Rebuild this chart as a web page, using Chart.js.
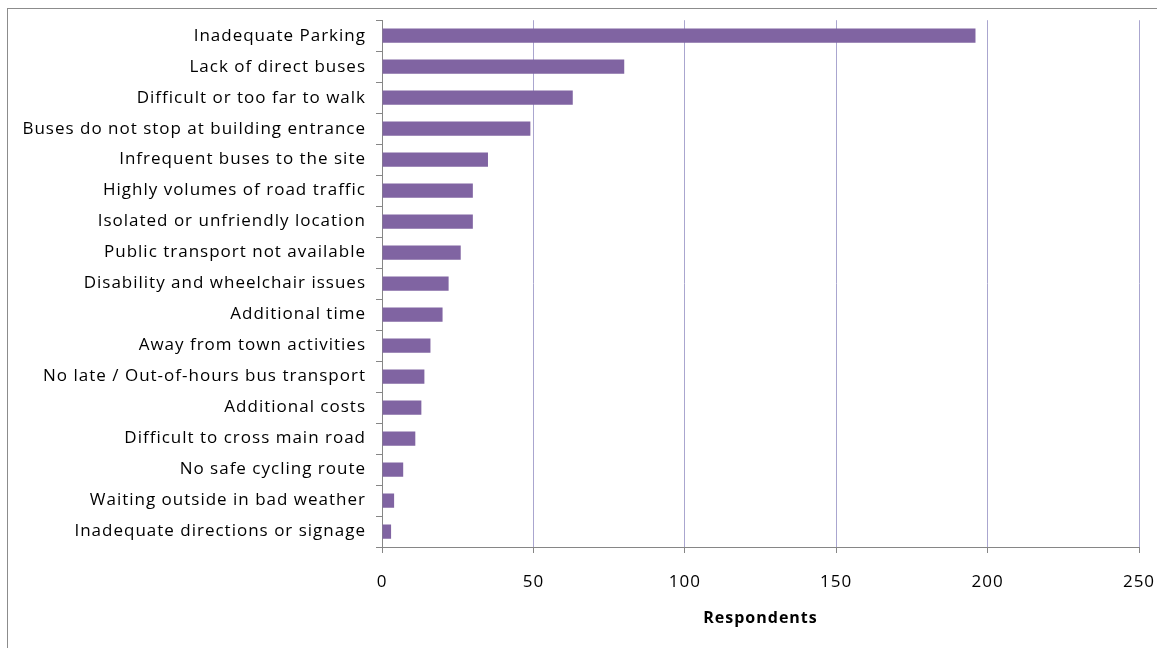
<!DOCTYPE html>
<html>
<head>
<meta charset="utf-8">
<script src="https://cdn.jsdelivr.net/npm/chart.js@4"></script>
<style>
  html, body { margin: 0; padding: 0; background: #fff; overflow: hidden; }
  #frame { position: absolute; left: 7px; top: 8px; width: 1300px; height: 800px; border: 1px solid #8c8c8c; }
  #wrap { position: absolute; left: 0; top: 0; width: 1157px; height: 648px; }
</style>
</head>
<body>
<div id="frame"></div>
<div id="wrap"><canvas id="barriers"></canvas></div>
<script>
// reasons given for difficulty reaching the site, largest first
const reasons = [
    'Inadequate Parking',
    'Lack of direct buses',
    'Difficult or too far to walk',
    'Buses do not stop at building entrance',
    'Infrequent buses to the site',
    'Highly volumes of road traffic',
    'Isolated or unfriendly location',
    'Public transport not available',
    'Disability and wheelchair issues',
    'Additional time',
    'Away from town activities',
    'No late / Out-of-hours bus transport',
    'Additional costs',
    'Difficult to cross main road',
    'No safe cycling route',
    'Waiting outside in bad weather',
    'Inadequate directions or signage'
];
const respondents = [196, 80, 63, 49, 35, 30, 30, 26, 22, 20, 16, 14, 13, 11, 7, 4, 3];
const xTicks = [0, 50, 100, 150, 200, 250];

const labelFont = { family: "'Open Sans', sans-serif", size: 17 };

// a little extra spacing between letters, set before measuring and drawing
const spacedText = {
    id: 'spacedText',
    beforeLayout(chart) { chart.ctx.letterSpacing = '1px'; },
    beforeDraw(chart) { chart.ctx.letterSpacing = '1px'; }
};

new Chart(document.getElementById('barriers'), {
    type: 'bar',
    data: {
        labels: reasons,
        datasets: [{
            data: respondents,
            backgroundColor: '#8064A2',
            barPercentage: 0.46,
            categoryPercentage: 1.0
        }]
    },
    plugins: [spacedText],
    options: {
        indexAxis: 'y',
        responsive: true,
        maintainAspectRatio: false,
        animation: false,
        layout: { padding: { top: 20, right: 18, left: 0, bottom: 0 } },
        plugins: {
            legend: { display: false },
            tooltip: { enabled: false }
        },
        scales: {
            x: {
                min: 0,
                max: 250,
                afterBuildTicks: (axis) => { axis.ticks = xTicks.map(v => ({ value: v })); },
                afterFit: (axis) => {
                    axis.height = 101;
                    axis.paddingLeft = 0;
                    axis.paddingRight = 0;
                },
                grid: { color: '#aaa6cf', tickColor: '#868686', tickLength: 6, lineWidth: 1 },
                border: { color: '#868686' },
                ticks: { color: '#000', font: labelFont, padding: 19 },
                title: {
                    display: true,
                    text: 'Respondents',
                    color: '#000',
                    font: { family: "'Open Sans', sans-serif", size: 16, weight: 'bold' },
                    padding: { top: 12, bottom: 20 }
                }
            },
            y: {
                afterFit: (axis) => { axis.width = 382; },
                grid: { offset: true, drawOnChartArea: false, tickLength: 6, color: '#868686' },
                border: { color: '#868686' },
                ticks: { color: '#000', font: labelFont, padding: 10, autoSkip: false }
            }
        }
    }
});
</script>
</body>
</html>
